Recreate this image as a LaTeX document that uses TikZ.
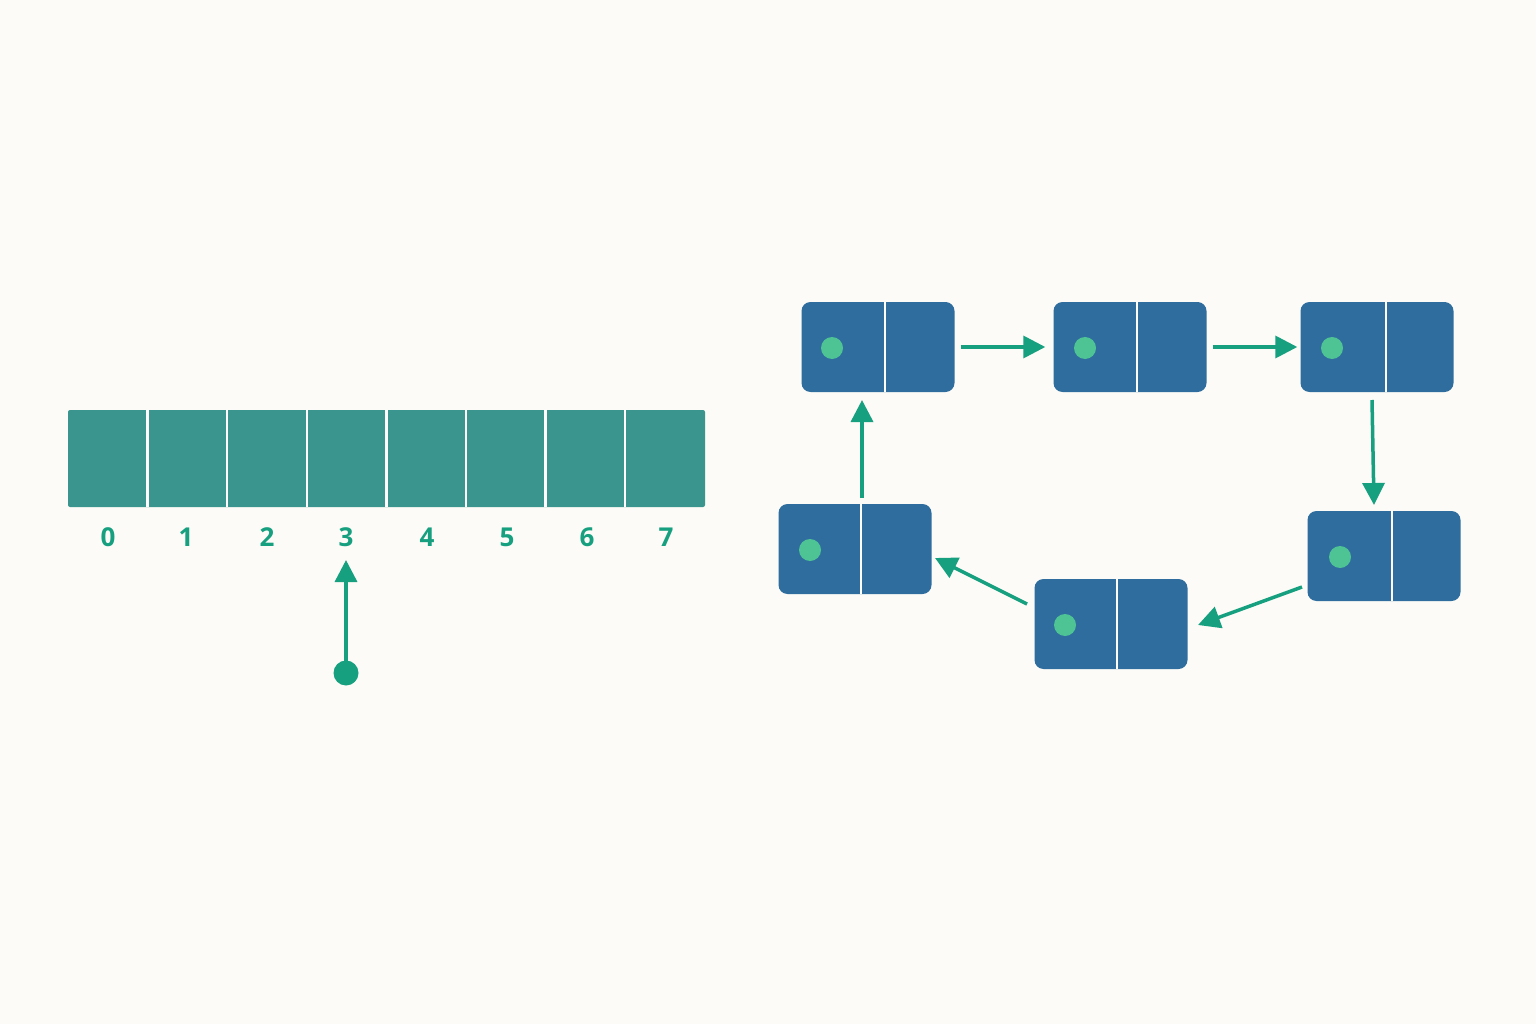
\documentclass[tikz,border=0pt]{standalone}
\usepackage{fontspec}
\setmainfont{Open Sans}
\usetikzlibrary{arrows.meta}
\definecolor{bg}{HTML}{FCFBF7}
\definecolor{arr}{HTML}{3A958F}
\definecolor{grn}{HTML}{17A07F}
\definecolor{nblue}{HTML}{2F6D9E}
\definecolor{ndot}{HTML}{4EC494}
\begin{document}
\begin{tikzpicture}[x=1pt,y=-1pt,
  cell/.style={fill=arr,draw=white,line width=2.5pt,minimum width=79.6pt,minimum height=97pt,inner sep=0pt,anchor=north west},
  idx/.style={text=grn,font=\fontsize{26}{28}\selectfont\bfseries},
  lnode/.style={fill=nblue,rounded corners=9pt,minimum width=153pt,minimum height=90pt,inner sep=0pt},
  conn/.style={draw=grn,line width=3.5pt,-{Triangle[length=22pt,width=22pt]}}]
\fill[bg] (0,0) rectangle (1536,1024);
\useasboundingbox (0,0) rectangle (1536,1024);
\fill[arr,rounded corners=2pt] (68,410) rectangle (705,507);
\foreach \i in {1,...,7}{\draw[white,line width=2.5pt] ({68+\i*79.6},410) -- ({68+\i*79.6},507);}
\foreach \i/\x in {0/108,1/186,2/267,3/346,4/427,5/507,6/587,7/666}{\node[idx] (l\i) at (\x,537) {\i};}
\fill[grn] (346,673) circle (12.5pt);
\coordinate (p0) at (346,673);
\coordinate (p1) at (346,560);
\draw[conn] (p0) -- (p1);
\foreach \n/\x/\y/\d/\dx in {A/878/347/885/832,B/1130/347/1137/1085,C/1377/347/1386/1332,D/1384/556/1392/1340,E/1111/624/1117/1065,F/855/549/861/810}{
  \node[lnode] (\n) at (\x,\y) {};
  \draw[white,line width=2pt] (\d,\y-45) -- (\d,\y+45);
  \fill[ndot] (\dx,\y+1) circle (11pt);
}
\draw[conn] ([xshift=6pt]A.east) -- ([xshift=-8pt]B.west);
\draw[conn] ([xshift=6pt]B.east) -- ([xshift=-3pt]C.west);
\draw[conn] (1372,400) -- (1374,505);
\draw[conn] (1302,587) -- (1198,625);
\draw[conn] (1027,604) -- (935,558);
\draw[conn] (862,498) -- (862,400);
\end{tikzpicture}
\end{document}
